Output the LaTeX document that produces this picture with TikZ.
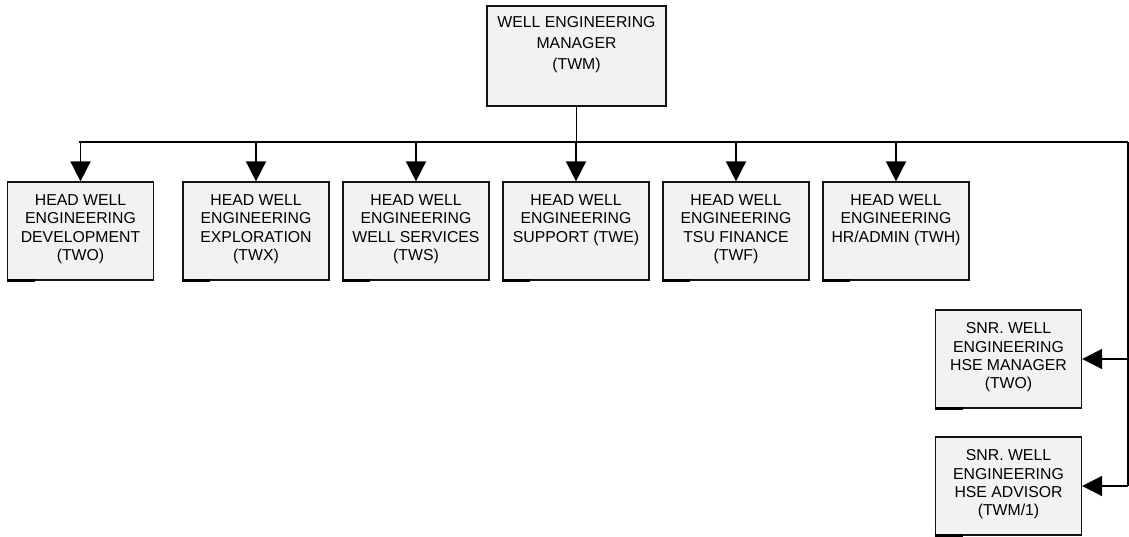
\documentclass[tikz,border=0pt]{standalone}
\usepackage{fontspec}
\setmainfont{Liberation Sans}
\usepackage{tikz}
\usetikzlibrary{arrows.meta, positioning, calc}
\definecolor{boxGrey}{RGB}{242, 242, 242}
\definecolor{lineDark}{RGB}{20, 20, 20}

\begin{document}
\begin{tikzpicture}[x=0.5pt, y=-0.5pt,
    orgbox/.style={draw=lineDark, line width=0.6pt, fill=boxGrey, inner sep=0pt,
        minimum width=73pt, minimum height=49pt},
    mgrbox/.style={orgbox, minimum width=89.5pt, minimum height=50pt},
    boxtext/.style={anchor=north, align=center, inner sep=0pt,
        font=\fontsize{7.9}{9.15}\selectfont},
    mgrtext/.style={boxtext, font=\fontsize{7.9}{10.3}\selectfont},
    link/.style={draw=black, line width=0.8pt},
    arr/.style={link, -{Triangle[length=10pt, width=10pt]}},
    tick/.style={draw=black, line width=1.3pt}]
    \useasboundingbox (0,0) rectangle (1129,536);

    % Manager
    \node[mgrbox] (twm) at (576.5,56) {};
    \node[mgrtext] (twm-t) at ([yshift=-5.5pt]twm.north) {WELL ENGINEERING\\MANAGER\\(TWM)};

    % Heads (first row)
    \node[orgbox] (two) at (80.5,231) {};
    \node[orgbox] (twx) at (256,231) {};
    \node[orgbox] (tws) at (416,231) {};
    \node[orgbox] (twe) at (576,231) {};
    \node[orgbox] (twf) at (736,231) {};
    \node[orgbox] (twh) at (896,231) {};
    \node[boxtext] (two-t) at ([yshift=-6.5pt]two.north) {HEAD WELL\\ENGINEERING\\DEVELOPMENT\\(TWO)};
    \node[boxtext] (twx-t) at ([yshift=-6.5pt]twx.north) {HEAD WELL\\ENGINEERING\\EXPLORATION\\(TWX)};
    \node[boxtext] (tws-t) at ([yshift=-6.5pt]tws.north) {HEAD WELL\\ENGINEERING\\WELL SERVICES\\(TWS)};
    \node[boxtext] (twe-t) at ([yshift=-6.5pt]twe.north) {HEAD WELL\\ENGINEERING\\SUPPORT (TWE)};
    \node[boxtext] (twf-t) at ([yshift=-6.5pt]twf.north) {HEAD WELL\\ENGINEERING\\TSU FINANCE\\(TWF)};
    \node[boxtext] (twh-t) at ([yshift=-6.5pt]twh.north) {HEAD WELL\\ENGINEERING\\HR/ADMIN (TWH)};

    % HSE staff on the right
    \node[orgbox] (hsem) at (1008.5,359) {};
    \node[orgbox] (hsea) at (1008.5,486) {};
    \node[boxtext] (hsem-t) at ([yshift=-6.5pt]hsem.north) {SNR. WELL\\ENGINEERING\\HSE MANAGER\\(TWO)};
    \node[boxtext] (hsea-t) at ([yshift=-6.5pt]hsea.north) {SNR. WELL\\ENGINEERING\\HSE ADVISOR\\(TWM/1)};

    % Small dark ticks at the bottom left of each box
    \foreach \b in {two,twx,tws,twe,twf,twh,hsem,hsea} {
        \draw[tick] (\b.south west) -- ++(28,0);
    }

    % Connectors
    \coordinate (busL) at (79,142);
    \coordinate (busR) at (1128,142);
    \draw[link] (twm.south) -- (twm.south |- busL);
    \draw[link] (busL) -- (busR);
    \draw[link] (busR) -- (busR |- hsea.east);
    \foreach \b in {two,twx,tws,twe,twf,twh} {
        \draw[arr] (\b.north |- busL) -- (\b.north);
    }
    \draw[arr] (busR |- hsem.east) -- (hsem.east);
    \draw[arr] (busR |- hsea.east) -- (hsea.east);
\end{tikzpicture}
\end{document}
